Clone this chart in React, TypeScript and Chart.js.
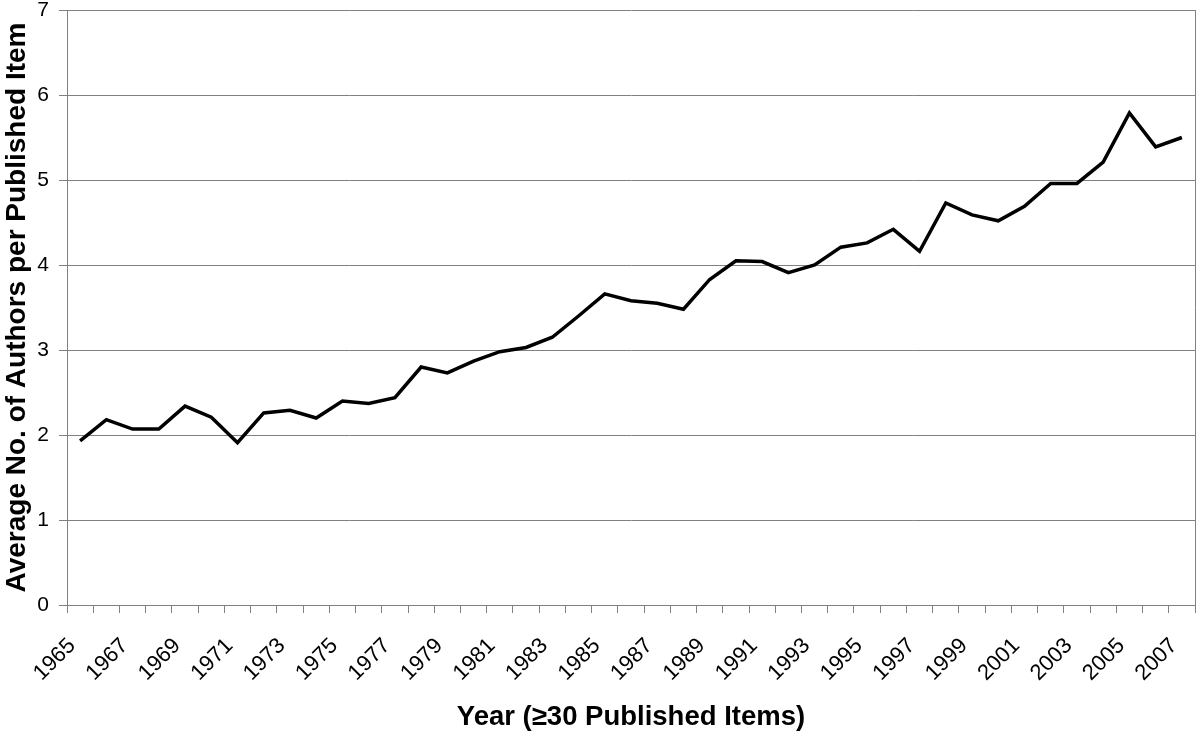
import React, { useEffect, useRef } from "react";
import { Chart, registerables } from "chart.js";

Chart.register(...registerables);

const years: string[] = [
  "1965", "1966", "1967", "1968", "1969", "1970", "1971", "1972", "1973", "1974",
  "1975", "1976", "1977", "1978", "1979", "1980", "1981", "1982", "1983", "1984",
  "1985", "1986", "1987", "1988", "1989", "1990", "1991", "1992", "1993", "1994",
  "1995", "1996", "1997", "1998", "1999", "2000", "2001", "2002", "2003", "2004",
  "2005", "2006", "2007",
];

const avgAuthors: number[] = [
  1.93, 2.18, 2.07, 2.07, 2.34, 2.21, 1.91, 2.26, 2.29, 2.2,
  2.4, 2.37, 2.44, 2.8, 2.73, 2.87, 2.98, 3.03, 3.15, 3.4,
  3.66, 3.58, 3.55, 3.48, 3.83, 4.05, 4.04, 3.91, 4.0, 4.21,
  4.26, 4.42, 4.16, 4.73, 4.59, 4.52, 4.69, 4.96, 4.96, 5.21,
  5.79, 5.39, 5.5,
];

const yTitle = "Average No. of Authors per Published Item";
const xTitle = "Year (\u226530 Published Items)";
const yMin = 0;
const yMax = 7;

const FONT = "'Liberation Sans', Arial, sans-serif";
const GRID = "#808080";

const rightBorder = {
  id: "rightBorder",
  afterDraw(chart: any) {
    const { ctx, chartArea } = chart;
    ctx.save();
    ctx.strokeStyle = GRID;
    ctx.lineWidth = 1;
    ctx.beginPath();
    ctx.moveTo(chartArea.right + 0.5, chartArea.top);
    ctx.lineTo(chartArea.right + 0.5, chartArea.bottom);
    ctx.stroke();
    ctx.restore();
  },
};

export default function App() {
  const ref = useRef<HTMLCanvasElement | null>(null);

  useEffect(() => {
    if (!ref.current) return;
    const chart = new Chart(ref.current, {
      type: "line",
      data: {
        labels: years,
        datasets: [
          {
            data: avgAuthors,
            borderColor: "#000000",
            borderWidth: 3.5,
            pointRadius: 0,
            tension: 0,
            fill: false,
          },
        ],
      },
      plugins: [rightBorder],
      options: {
        animation: false,
        responsive: true,
        maintainAspectRatio: false,
        layout: { padding: { top: 10, right: 5, left: 0, bottom: 0 } },
        plugins: {
          legend: { display: false },
          tooltip: { enabled: false },
        },
        scales: {
          x: {
            type: "category",
            offset: true,
            grid: {
              offset: true,
              drawOnChartArea: false,
              drawTicks: true,
              tickLength: 8,
              color: GRID,
            },
            border: { color: GRID, width: 1 },
            ticks: {
              autoSkip: false,
              maxRotation: 45,
              minRotation: 45,
              padding: 20,
              labelOffset: -8,
              color: "#000",
              font: { family: FONT, size: 22 },
              callback: (_v: any, i: number) => (i % 2 === 0 ? years[i] : ""),
            },
            title: {
              display: true,
              text: xTitle,
              color: "#000",
              font: { family: FONT, size: 27.5, weight: "bold" },
              padding: { top: 0, bottom: 3 },
            },
            afterFit: (s: any) => {
              s.height = 132;
              s.paddingLeft = 0;
              s.paddingRight = 0;
            },
          },
          y: {
            min: yMin,
            max: yMax,
            grid: {
              color: GRID,
              lineWidth: 1,
              tickLength: 8,
            },
            border: { color: GRID, width: 1 },
            ticks: {
              stepSize: 1,
              padding: 10,
              color: "#000",
              font: { family: FONT, size: 21 },
            },
            title: {
              display: true,
              text: yTitle,
              color: "#000",
              font: { family: FONT, size: 28, weight: "bold" },
              padding: { top: 0, bottom: 0 },
            },
            afterFit: (s: any) => {
              s.width = 67;
              s.paddingTop = 0;
              s.paddingBottom = 0;
            },
          },
        },
      },
    } as any);
    return () => chart.destroy();
  }, []);

  return (
    <div style={{ position: "absolute", left: 0, top: 0, width: 1200, height: 737, background: "#fff" }}>
      <canvas ref={ref} />
    </div>
  );
}
